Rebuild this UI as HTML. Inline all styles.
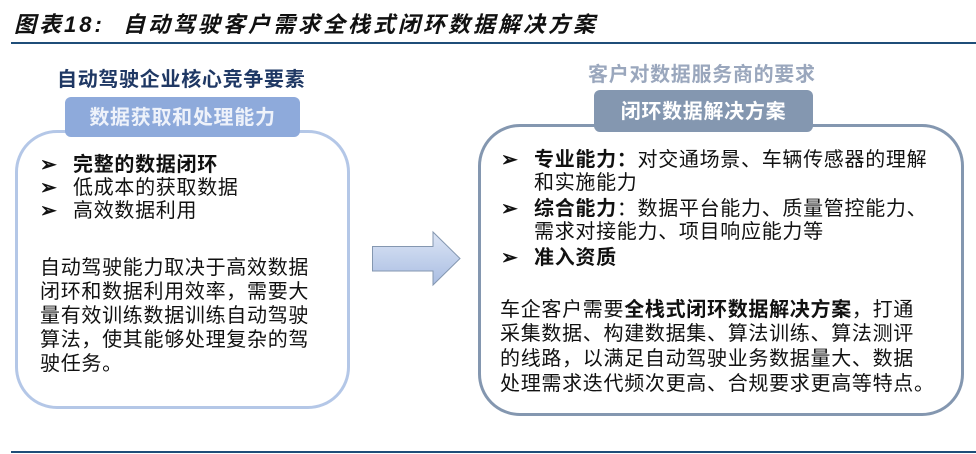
<!DOCTYPE html>
<html><head><meta charset="utf-8"><style>
*{margin:0;padding:0;box-sizing:border-box}
body{width:976px;height:454px;background:#fff;position:relative;overflow:hidden;font-family:"Liberation Sans","Noto Sans CJK SC",sans-serif;color:#111}
.a{position:absolute;white-space:nowrap;line-height:24px;font-size:20px;letter-spacing:0.7px}
.b{font-weight:bold}
.ar{position:absolute;font-size:20px;line-height:24px;font-weight:bold}
</style></head><body>
<div class="a b" style="left:14px;top:13px;font-size:22px;font-style:italic;letter-spacing:3px;color:#111">图表18:&nbsp;&nbsp;自动驾驶客户需求全栈式闭环数据解决方案</div>
<div style="position:absolute;left:11px;top:42px;width:965px;height:2px;background:#1f4e79"></div>
<div style="position:absolute;left:11px;top:451px;width:965px;height:2px;background:#1f4e79"></div>

<!-- left -->
<div class="a b" style="left:57px;top:68px;color:#1f3864">自动驾驶企业核心竞争要素</div>
<div style="position:absolute;left:15px;top:130px;width:335px;height:279px;border:3px solid #b4c7e7;border-radius:42px"></div>
<div style="position:absolute;left:65px;top:97px;width:235px;height:40px;background:#8eaadb;border-radius:6px"></div>
<div class="a b" style="left:65px;top:106px;width:235px;text-align:center;color:#eef2fa">数据获取和处理能力</div>
<div class="ar" style="left:40px;top:153px">➢</div><div class="a b" style="left:73px;top:153px">完整的数据闭环</div>
<div class="ar" style="left:40px;top:176px">➢</div><div class="a" style="left:73px;top:176px">低成本的获取数据</div>
<div class="ar" style="left:40px;top:199px">➢</div><div class="a" style="left:73px;top:199px">高效数据利用</div>
<div class="a" style="left:40px;top:256px">自动驾驶能力取决于高效数据</div>
<div class="a" style="left:40px;top:280px">闭环和数据利用效率，需要大</div>
<div class="a" style="left:40px;top:304px">量有效训练数据训练自动驾驶</div>
<div class="a" style="left:40px;top:328px">算法，使其能够处理复杂的驾</div>
<div class="a" style="left:40px;top:352px">驶任务。</div>

<!-- arrow -->
<svg style="position:absolute;left:0;top:0" width="976" height="454">
<defs><linearGradient id="g" x1="0" y1="0" x2="0" y2="1"><stop offset="0" stop-color="#dce5f5"/><stop offset="1" stop-color="#a9bde2"/></linearGradient></defs>
<path d="M372.5 246.5 H433 V232 L460 258.5 L433 285 V271 H372.5 Z" fill="url(#g)" stroke="#8497b0" stroke-width="1"/>
</svg>

<!-- right -->
<div class="a b" style="left:588px;top:63px;color:#9aa7bd">客户对数据服务商的要求</div>
<div style="position:absolute;left:478px;top:124px;width:486px;height:292px;border:3px solid #8497b0;border-radius:42px"></div>
<div style="position:absolute;left:594px;top:90px;width:219px;height:42px;background:#8497b0;border-radius:6px"></div>
<div class="a b" style="left:594px;top:100px;width:219px;text-align:center;color:#fff">闭环数据解决方案</div>
<div class="ar" style="left:501px;top:148px">➢</div><div class="a" style="left:534px;top:148px"><b>专业能力：</b>对交通场景、车辆传感器的理解</div>
<div class="a" style="left:534px;top:171px">和实施能力</div>
<div class="ar" style="left:501px;top:197px">➢</div><div class="a" style="left:534px;top:197px"><b>综合能力</b>：数据平台能力、质量管控能力、</div>
<div class="a" style="left:534px;top:220px">需求对接能力、项目响应能力等</div>
<div class="ar" style="left:501px;top:246px">➢</div><div class="a b" style="left:534px;top:246px">准入资质</div>
<div class="a" style="left:500px;top:298px">车企客户需要<b>全栈式闭环数据解决方案</b>，打通</div>
<div class="a" style="left:500px;top:322px">采集数据、构建数据集、算法训练、算法测评</div>
<div class="a" style="left:500px;top:347px">的线路，以满足自动驾驶业务数据量大、数据</div>
<div class="a" style="left:500px;top:372px">处理需求迭代频次更高、合规要求更高等特点。</div>
</body></html>
